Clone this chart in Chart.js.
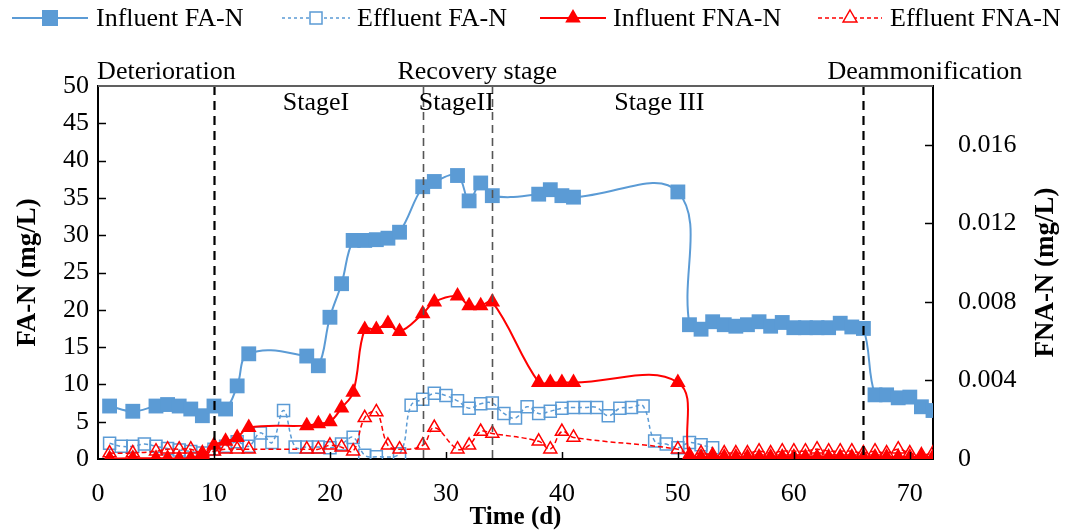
<!DOCTYPE html>
<html>
<head>
<meta charset="utf-8">
<script src="https://cdn.jsdelivr.net/npm/chart.js@4.4.1/dist/chart.umd.min.js"></script>
<style>
  html, body { margin: 0; padding: 0; background: #ffffff; }
  #wrap { width: 1067px; height: 530px; }
</style>
</head>
<body>
<div id="wrap"><canvas id="c" width="1067" height="530"></canvas></div>
<script>
// ---------------- DATA ----------------
const faDays = [1,3,5,6,7,8,9,10,11,12,13,18,19,20,21,22,23,24,25,26,28,29,31,32,33,34,38,39,40,41,50,
  51,52,53,54,55,56,57,58,59,60,61,62,63,64,65,66,67,68,69,70,71,72];
const influentFA = [7.1,6.4,7.1,7.3,7.1,6.7,5.8,7.1,6.7,9.8,14.1,13.8,12.5,19.0,23.5,29.3,29.3,29.4,29.6,30.4,
  36.5,37.2,38.0,34.6,37.0,35.3,35.5,36.1,35.3,35.1,35.8,
  18.0,17.4,18.4,18.0,17.8,18.0,18.4,17.8,18.3,17.6,17.6,17.6,17.6,18.2,17.7,17.5,8.6,8.6,8.2,8.3,7.0,6.5];

const effDays = [1,2,3,4,5,6,7,8,9,10,11,12,13,14,15,16,17,18,19,20,21,22,23,24,
  26,27,28,29,30,31,32,33,34,35,36,37,38,39,40,41,42,43,44,45,46,47,48,49,50,51,52,53];
const effluentFA = [2.1,1.7,1.7,2.0,1.7,1.4,1.2,1.0,0.8,1.3,1.7,2.3,1.7,3.5,2.2,6.5,1.6,1.6,1.6,1.5,2.0,2.9,0.5,0.3,
  0.7,7.2,8.0,8.8,8.5,7.8,6.8,7.4,7.5,6.1,5.5,7.0,6.1,6.4,6.8,6.9,6.9,6.9,5.8,6.8,6.9,7.1,2.4,2.0,1.5,2.2,1.9,1.5];

const fnaDays = [1,3,5,6,7,8,9,10,11,12,13,18,19,20,21,22,23,24,25,26,28,29,31,32,33,34,38,39,40,41,50,
  51,52,53,54,55,56,57,58,59,60,61,62,63,64,65,66,67,68,69,70,71,72];
const influentFNA = [0.00002,0.00004,0.00004,0.00004,0.00002,0.00005,0.0002,0.0007,0.0009,0.0011,0.0016,
  0.0017,0.0018,0.0019,0.0026,0.0034,0.0066,0.0066,0.0069,0.0065,0.0074,0.0080,0.0083,0.0078,0.0078,0.0080,
  0.0039,0.0039,0.0039,0.0039,0.0039,
  0.0001,0.0001,0.0001,0.0001,0.0001,0.0001,0.0001,0.0001,0.0001,0.0001,0.0001,
  0.0001,0.0001,0.0001,0.0001,0.0001,0.0001,0.0001,0.0001,0.0001,0.0001,0.0001];
const effluentFNA = [0.0003,0.0003,0.0004,0.0005,0.0005,0.0005,0.0003,0.0004,0.0005,0.0005,0.0005,
  0.0005,0.0005,0.0007,0.0006,0.0004,0.0021,0.0024,0.0007,0.0005,0.0007,0.0016,0.0005,0.0007,0.0014,0.0013,
  0.0009,0.0005,0.0014,0.0011,0.0005,
  0.0002,0.0003,0.0002,0.0003,0.0003,0.0003,0.0004,0.0003,0.0004,0.0004,0.0004,
  0.0005,0.0004,0.0004,0.0004,0.0003,0.0004,0.0003,0.0005,0.0003,0.0002,0.0003];

const xTicks = [0,10,20,30,40,50,60,70];
const yTicks = [0,5,10,15,20,25,30,35,40,45,50];
const y2Ticks = [0,0.004,0.008,0.012,0.016];

const stageLines = [10, 28, 34, 66];
const seriesNames = ['Influent FA-N','Effluent FA-N','Influent FNA-N','Effluent FNA-N'];
const stageTexts = ['Deterioration','Recovery stage','Deammonification','StageI','StageII','Stage III'];
const stageTextDays = [5.9, 32.7, 71.3, 18.8, 30.9, 48.4];
const stageTextRow = [0, 0, 0, 1, 1, 1];

// ---------------- STYLE ----------------
const BLUE = '#5B9BD5';
const RED = '#FF0000';
const FONT = '"Liberation Serif", "Times New Roman", serif';

function pts(xs, ys) { return xs.map((x, i) => ({ x: x, y: ys[i] })); }

const overlay = {
  id: 'overlay',
  afterDatasetsDraw(chart) {
    const ctx = chart.ctx;
    const xs = chart.scales.x, ys = chart.scales.y, y2 = chart.scales.y2;
    const ca = chart.chartArea;
    ctx.save();
    // stage separator lines
    stageLines.forEach((d, i) => {
      const px = Math.round(xs.getPixelForValue(d)) + 0.5;
      const major = (i === 0 || i === stageLines.length - 1);
      ctx.beginPath();
      ctx.setLineDash(major ? [9, 6] : [8, 5]);
      ctx.lineWidth = major ? 2.2 : 1.6;
      ctx.strokeStyle = major ? '#000000' : '#555555';
      ctx.moveTo(px, ca.top);
      ctx.lineTo(px, ca.bottom);
      ctx.stroke();
    });
    ctx.setLineDash([]);
    // top frame
    ctx.beginPath();
    ctx.strokeStyle = '#606060';
    ctx.lineWidth = 2;
    ctx.moveTo(ca.left, ca.top);
    ctx.lineTo(ca.right, ca.top);
    ctx.stroke();
    // inner tick marks
    ctx.strokeStyle = '#000000';
    ctx.lineWidth = 1.5;
    xTicks.forEach(v => {
      if (v === 0) return;
      const px = Math.round(xs.getPixelForValue(v)) + 0.5;
      ctx.beginPath(); ctx.moveTo(px, ca.bottom); ctx.lineTo(px, ca.bottom - 7); ctx.stroke();
    });
    yTicks.forEach(v => {
      if (v === 0 || v === 50) return;
      const py = Math.round(ys.getPixelForValue(v)) + 0.5;
      ctx.beginPath(); ctx.moveTo(ca.left, py); ctx.lineTo(ca.left + 8, py); ctx.stroke();
    });
    y2Ticks.forEach(v => {
      if (v === 0) return;
      const py = Math.round(y2.getPixelForValue(v)) + 0.5;
      ctx.beginPath(); ctx.moveTo(ca.right, py); ctx.lineTo(ca.right - 8, py); ctx.stroke();
    });
    // stage texts
    ctx.fillStyle = '#000000';
    ctx.font = '26px ' + FONT;
    ctx.textAlign = 'center';
    ctx.textBaseline = 'middle';
    stageTexts.forEach((t, i) => {
      const px = xs.getPixelForValue(stageTextDays[i]);
      const py = stageTextRow[i] === 0 ? 72 : 103;
      ctx.fillText(t, px, py);
    });
    // right axis title (reads bottom to top)
    ctx.save();
    ctx.font = 'bold 27px ' + FONT;
    ctx.translate(1046, (ca.top + ca.bottom) / 2);
    ctx.rotate(-Math.PI / 2);
    ctx.fillText('FNA-N (mg/L)', 0, 0);
    ctx.restore();
    // legend
    const ly = 18;
    const items = [
      { x1: 12, x2: 88, tx: 96, color: BLUE, dash: [], lw: 2, marker: 'sqF' },
      { x1: 282, x2: 350, tx: 357, color: BLUE, dash: [3, 3], lw: 1.5, marker: 'sqO' },
      { x1: 540, x2: 606, tx: 613, color: RED, dash: [], lw: 2, marker: 'trF' },
      { x1: 818, x2: 882, tx: 890, color: RED, dash: [4, 3], lw: 1.5, marker: 'trO' }
    ];
    items.forEach((it, i) => {
      ctx.beginPath();
      ctx.setLineDash(it.dash);
      ctx.strokeStyle = it.color;
      ctx.lineWidth = it.lw;
      ctx.moveTo(it.x1, ly); ctx.lineTo(it.x2, ly); ctx.stroke();
      ctx.setLineDash([]);
      const mx = (it.x1 + it.x2) / 2;
      ctx.beginPath();
      if (it.marker === 'sqF') {
        ctx.fillStyle = it.color; ctx.fillRect(mx - 8, ly - 8, 16, 16);
      } else if (it.marker === 'sqO') {
        ctx.fillStyle = '#fff'; ctx.fillRect(mx - 6, ly - 6, 12, 12);
        ctx.strokeStyle = it.color; ctx.lineWidth = 1.5; ctx.strokeRect(mx - 6, ly - 6, 12, 12);
      } else {
        const r = it.marker === 'trF' ? 9 : 8;
        ctx.moveTo(mx, ly - r);
        ctx.lineTo(mx + r * 0.866, ly + r / 2);
        ctx.lineTo(mx - r * 0.866, ly + r / 2);
        ctx.closePath();
        if (it.marker === 'trF') { ctx.fillStyle = it.color; ctx.fill(); }
        else { ctx.fillStyle = '#fff'; ctx.fill(); ctx.strokeStyle = it.color; ctx.lineWidth = 1.5; ctx.stroke(); }
      }
      ctx.fillStyle = '#000';
      ctx.font = '26px ' + FONT;
      ctx.textAlign = 'left';
      ctx.textBaseline = 'middle';
      ctx.fillText(seriesNames[i], it.tx, ly + 1);
    });
    ctx.restore();
  }
};

new Chart(document.getElementById('c'), {
  type: 'line',
  data: {
    datasets: [
      { label: seriesNames[0], data: pts(faDays, influentFA), yAxisID: 'y', order: 3,
        borderColor: BLUE, backgroundColor: BLUE, borderWidth: 2, tension: 0.4,
        pointStyle: 'rect', pointRadius: 10.5, pointBorderWidth: 0, pointBackgroundColor: BLUE },
      { label: seriesNames[1], data: pts(effDays, effluentFA), yAxisID: 'y', order: 4,
        borderColor: BLUE, backgroundColor: 'rgba(0,0,0,0)', borderWidth: 1.5, borderDash: [4, 3], tension: 0.4,
        pointStyle: 'rect', pointRadius: 8.5, pointBorderWidth: 1.5, pointBackgroundColor: 'rgba(255,255,255,0)', pointBorderColor: BLUE },
      { label: seriesNames[2], data: pts(fnaDays, influentFNA), yAxisID: 'y2', order: 1,
        borderColor: RED, backgroundColor: RED, borderWidth: 2, tension: 0.4,
        pointStyle: 'triangle', pointRadius: 9, pointBorderWidth: 0, pointBackgroundColor: RED },
      { label: seriesNames[3], data: pts(fnaDays, effluentFNA), yAxisID: 'y2', order: 2,
        borderColor: RED, backgroundColor: 'rgba(0,0,0,0)', borderWidth: 1.5, borderDash: [5, 3], tension: 0.4,
        pointStyle: 'triangle', pointRadius: 7.5, pointBorderWidth: 1.5, pointBackgroundColor: 'rgba(255,255,255,0)', pointBorderColor: RED }
    ]
  },
  options: {
    responsive: false,
    devicePixelRatio: 1,
    animation: false,
    layout: { padding: { top: 86, left: 0, right: 0, bottom: 0 } },
    plugins: { legend: { display: false }, tooltip: { enabled: false }, title: { display: false } },
    scales: {
      x: {
        type: 'linear', min: 0, max: 72,
        afterBuildTicks: s => { s.ticks = xTicks.map(v => ({ value: v })); },
        afterFit: s => { s.height = 71; },
        grid: { display: false, drawTicks: false },
        border: { display: true, color: '#000', width: 2 },
        ticks: { color: '#000', font: { family: FONT, size: 26 }, padding: 20, maxRotation: 0 },
        title: { display: true, text: 'Time (d)', color: '#000', font: { family: FONT, size: 25, weight: 'bold', lineHeight: 1 }, padding: 0 }
      },
      y: {
        position: 'left', min: 0, max: 50,
        afterBuildTicks: s => { s.ticks = yTicks.map(v => ({ value: v })); },
        afterFit: s => { s.width = 98; },
        grid: { display: false, drawTicks: false },
        border: { display: true, color: '#000', width: 2 },
        ticks: { color: '#000', font: { family: FONT, size: 26 }, padding: 9 },
        title: { display: true, text: 'FA-N (mg/L)', color: '#000', font: { family: FONT, size: 27, weight: 'bold', lineHeight: 1 }, padding: { top: 15, bottom: 0 } }
      },
      y2: {
        position: 'right', min: 0, max: 0.019,
        afterBuildTicks: s => { s.ticks = y2Ticks.map(v => ({ value: v })); },
        afterFit: s => { s.width = 134; },
        grid: { display: false, drawTicks: false },
        border: { display: true, color: '#000', width: 2 },
        ticks: { color: '#000', font: { family: FONT, size: 26 }, padding: 25,
          callback: v => (v === 0 ? '0' : v.toFixed(3)) }
      }
    }
  },
  plugins: [overlay]
});
</script>
</body>
</html>
